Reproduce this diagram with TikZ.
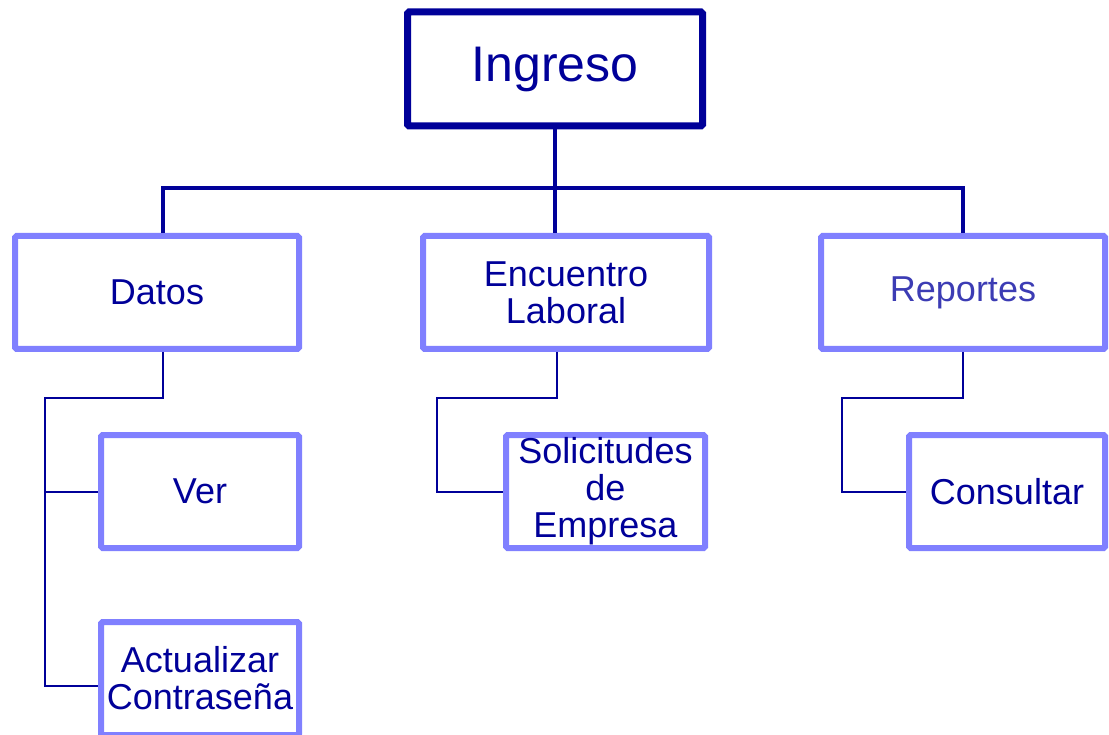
\documentclass[tikz,border=0pt]{standalone}
\usepackage{fontspec}
\setmainfont{Liberation Sans}
\usetikzlibrary{positioning}
\definecolor{Navy}{HTML}{000099}
\definecolor{Lilac}{HTML}{8080FF}
\definecolor{SoftNavy}{HTML}{3C3CB4}
\begin{document}
\begin{tikzpicture}[x=1pt,y=-1pt,
    top/.style={draw=Navy,line width=7pt,rounded corners=1.5pt,text=Navy,inner sep=0pt,minimum width=295pt,minimum height=114pt,font=\fontsize{50}{52}\selectfont},
    item/.style={draw=Lilac,line width=6pt,rounded corners=1.5pt,text=Navy,inner sep=0pt,align=center,minimum height=113pt,font=\fontsize{36}{37}\selectfont},
    trunk/.style={draw=Navy,line width=4pt},
    twig/.style={draw=Navy,line width=2pt}]
        \useasboundingbox (0,0) rectangle (1109,735);
        \node[top] (ingreso) at (555,69) {Ingreso};
        \node[item,minimum width=284pt] (datos) at (157,292.5) {Datos};
        \node[item,minimum width=286pt] (encuentro) at (566,292.5) {Encuentro\\Laboral};
        \node[item,minimum width=284pt,text=SoftNavy] (reportes) at (963,292.5) {Reportes};
        \node[item,minimum width=198pt] (ver) at (200,491.5) {Ver};
        \node[item,minimum width=198pt] (actualizar) at (200,678.5) {Actualizar\\Contraseña};
        \node[item,minimum width=199pt] (solicitudes) at (605.5,491.5) {Solicitudes\\de\\Empresa};
        \node[item,minimum width=196pt] (consultar) at (1007,491.5) {Consultar};
        % first level
        \coordinate (bar) at (0,188);
        \draw[trunk] (ingreso.south) -- (ingreso.south |- encuentro.north);
        \draw[trunk] ([xshift=6pt]datos.north) |- (reportes.north |- bar) -- (reportes.north);
        % second level
        \coordinate (dknee) at (45,398);
        \coordinate (eknee) at (437,398);
        \coordinate (rknee) at (842,398);
        \draw[twig] ([xshift=6pt]datos.south) |- (dknee) |- ([yshift=-7pt]actualizar.west);
        \draw[twig] (dknee |- ver.west) -- (ver.west);
        \draw[twig] ([xshift=-9pt]encuentro.south) |- (eknee) |- (solicitudes.west);
        \draw[twig] (reportes.south) |- (rknee) |- (consultar.west);
\end{tikzpicture}
\end{document}
